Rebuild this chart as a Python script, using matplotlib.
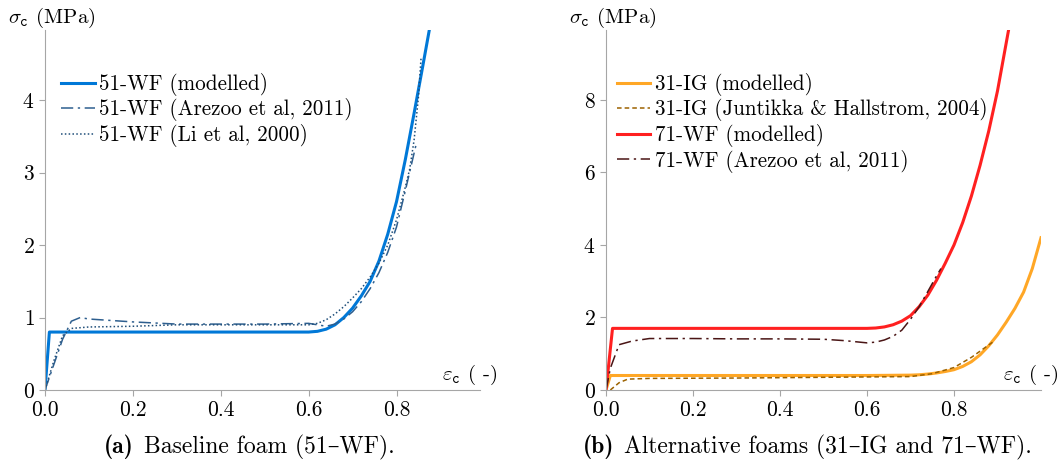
import matplotlib
matplotlib.use("Agg")
import matplotlib.pyplot as plt

plt.rcParams['font.family'] = ['cmr10', 'DejaVu Serif']
plt.rcParams['mathtext.fontset'] = 'cm'
plt.rcParams['axes.formatter.use_mathtext'] = True

# (a) baseline foam 51-WF
wf51_model_x = [0, 0.01, 0.1, 0.3, 0.5, 0.6, 0.62, 0.64, 0.66, 0.68, 0.70, 0.72, 0.74,
                0.76, 0.78, 0.80, 0.82, 0.84, 0.86, 0.88]
wf51_model_y = [0, 0.8, 0.8, 0.8, 0.8, 0.8, 0.81, 0.84, 0.9, 1.0, 1.13, 1.3, 1.5,
                1.78, 2.15, 2.6, 3.18, 3.82, 4.48, 5.15]
wf51_arezoo_x = [0, 0.02, 0.04, 0.06, 0.08, 0.1, 0.2, 0.3, 0.4, 0.5, 0.6, 0.62, 0.64,
                 0.66, 0.68, 0.7, 0.72, 0.74, 0.76, 0.78, 0.8, 0.82, 0.845]
wf51_arezoo_y = [0, 0.35, 0.7, 0.95, 1.0, 0.98, 0.94, 0.91, 0.91, 0.91, 0.92, 0.9, 0.88,
                 0.91, 0.98, 1.08, 1.22, 1.4, 1.62, 1.9, 2.25, 2.75, 3.4]
wf51_li_x = [0, 0.02, 0.04, 0.06, 0.1, 0.2, 0.3, 0.4, 0.5, 0.6, 0.62, 0.64, 0.66, 0.68,
             0.7, 0.72, 0.74, 0.76, 0.78, 0.8, 0.82, 0.83, 0.84, 0.85, 0.856]
wf51_li_y = [0, 0.4, 0.75, 0.85, 0.87, 0.88, 0.9, 0.9, 0.9, 0.9, 0.92, 0.97, 1.05, 1.15,
             1.27, 1.4, 1.56, 1.75, 2.0, 2.35, 2.8, 3.05, 3.45, 4.05, 4.6]

# (b) alternative foams 31-IG and 71-WF
ig31_model_x = [0, 0.01, 0.2, 0.4, 0.6, 0.7, 0.72, 0.74, 0.76, 0.78, 0.8, 0.82, 0.84,
                0.86, 0.88, 0.9, 0.92, 0.94, 0.96, 0.98, 1.0]
ig31_model_y = [0, 0.4, 0.4, 0.4, 0.4, 0.41, 0.42, 0.44, 0.47, 0.51, 0.56, 0.65, 0.78,
                0.97, 1.22, 1.52, 1.87, 2.25, 2.7, 3.35, 4.2]
ig31_junt_x = [0.01, 0.03, 0.05, 0.1, 0.3, 0.5, 0.7, 0.75, 0.8, 0.84, 0.89]
ig31_junt_y = [0, 0.2, 0.3, 0.32, 0.33, 0.35, 0.37, 0.45, 0.62, 0.9, 1.33]
wf71_model_x = [0, 0.015, 0.2, 0.4, 0.6, 0.62, 0.64, 0.66, 0.68, 0.7, 0.72, 0.74, 0.76,
                0.78, 0.8, 0.82, 0.84, 0.86, 0.88, 0.9, 0.925]
wf71_model_y = [0, 1.7, 1.7, 1.7, 1.7, 1.71, 1.74, 1.8, 1.9, 2.05, 2.3, 2.62, 3.03,
                3.5, 4.0, 4.62, 5.35, 6.2, 7.15, 8.25, 9.9]
wf71_arezoo_x = [0, 0.01, 0.03, 0.06, 0.1, 0.2, 0.3, 0.4, 0.5, 0.55, 0.6, 0.62, 0.64,
                 0.66, 0.68, 0.7, 0.72, 0.74, 0.76, 0.77]
wf71_arezoo_y = [0, 0.6, 1.25, 1.35, 1.42, 1.42, 1.41, 1.41, 1.4, 1.36, 1.3, 1.32, 1.38,
                 1.48, 1.65, 1.95, 2.3, 2.72, 3.15, 3.35]

xticks = [0.0, 0.2, 0.4, 0.6, 0.8]
xtick_labels = ['0.0', '0.2', '0.4', '0.6', '0.8']
yticks_a = [0, 1, 2, 3, 4]
yticks_b = [0, 2, 4, 6, 8]

fig = plt.figure(figsize=(10.6, 4.67), dpi=100)
ax1 = fig.add_axes([45 / 1060, 77 / 467, 435 / 1060, 360 / 467])
ax2 = fig.add_axes([606 / 1060, 77 / 467, 435 / 1060, 360 / 467])

grey = '#a6a6a6'
for ax in (ax1, ax2):
    ax.spines['top'].set_visible(False)
    ax.spines['right'].set_visible(False)
    ax.spines['left'].set_color(grey)
    ax.spines['bottom'].set_color(grey)
    ax.tick_params(colors=grey, labelcolor='black', labelsize=15.5, length=4)
    ax.set_xticks(xticks)
    ax.set_xticklabels(xtick_labels)
    ax.annotate(r'$\sigma_{\mathtt{c}}$ (MPa)', xy=(0, 1), xycoords='axes fraction',
                xytext=(-37, 12), textcoords='offset pixels', ha='left', va='center',
                fontsize=15)
    ax.annotate(r'$\varepsilon_{\mathtt{c}}$ ( -)', xy=(1, 0), xycoords='axes fraction',
                xytext=(18, 3), textcoords='offset pixels', ha='right', va='bottom',
                fontsize=15)

ax1.set_xlim(0, 0.99)
ax2.set_xlim(0, 1.0)

ax1.plot(wf51_model_x, wf51_model_y, color='#0078d7', lw=2.2, solid_joinstyle='round',
         label='51-WF (modelled)')
ax1.plot(wf51_arezoo_x, wf51_arezoo_y, color='#2e5f8f', lw=1.1, ls=(0, (8, 3, 1.5, 3)),
         label='51-WF (Arezoo et al, 2011)')
ax1.plot(wf51_li_x, wf51_li_y, color='#1f4e79', lw=1.1, ls=(0, (1, 1.5)),
         label='51-WF (Li et al, 2000)')
ax1.set_ylim(0, 4.97)
ax1.set_yticks(yticks_a)
ax1.legend(loc='upper left', bbox_to_anchor=(0.013, 0.91), frameon=False, fontsize=15.2,
           handlelength=1.6, handletextpad=0.2, labelspacing=0.12, borderpad=0)

ax2.plot(ig31_model_x, ig31_model_y, color='#ffa726', lw=2.2, solid_joinstyle='round',
         label='31-IG (modelled)')
ax2.plot(ig31_junt_x, ig31_junt_y, color='#9c6200', lw=1.1, ls=(0, (3, 2)),
         label='31-IG (Juntikka & Hallstrom, 2004)')
ax2.plot(wf71_model_x, wf71_model_y, color='#ff2020', lw=2.2, solid_joinstyle='round',
         label='71-WF (modelled)')
ax2.plot(wf71_arezoo_x, wf71_arezoo_y, color='#4a1515', lw=1.1, ls=(0, (8, 3, 1.5, 3)),
         label='71-WF (Arezoo et al, 2011)')
ax2.set_ylim(0, 9.93)
ax2.set_yticks(yticks_b)
ax2.legend(loc='upper left', bbox_to_anchor=(0.0, 0.91), frameon=False, fontsize=15.2,
           handlelength=1.6, handletextpad=0.2, labelspacing=0.12, borderpad=0)

# captions
fig.text(134 / 1060, 20 / 467, '(a)', family='cmb10', fontsize=17, ha='right', va='center')
fig.text(144 / 1060, 20 / 467, 'Baseline foam (51–WF).', fontsize=17, ha='left', va='center',
         family=['cmr10', 'DejaVu Serif'])
fig.text(614 / 1060, 20 / 467, '(b)', family='cmb10', fontsize=17, ha='right', va='center')
fig.text(624 / 1060, 20 / 467, 'Alternative foams (31–IG and 71–WF).', fontsize=17,
         ha='left', va='center', family=['cmr10', 'DejaVu Serif'])

fig.savefig('out.png', dpi=100)
